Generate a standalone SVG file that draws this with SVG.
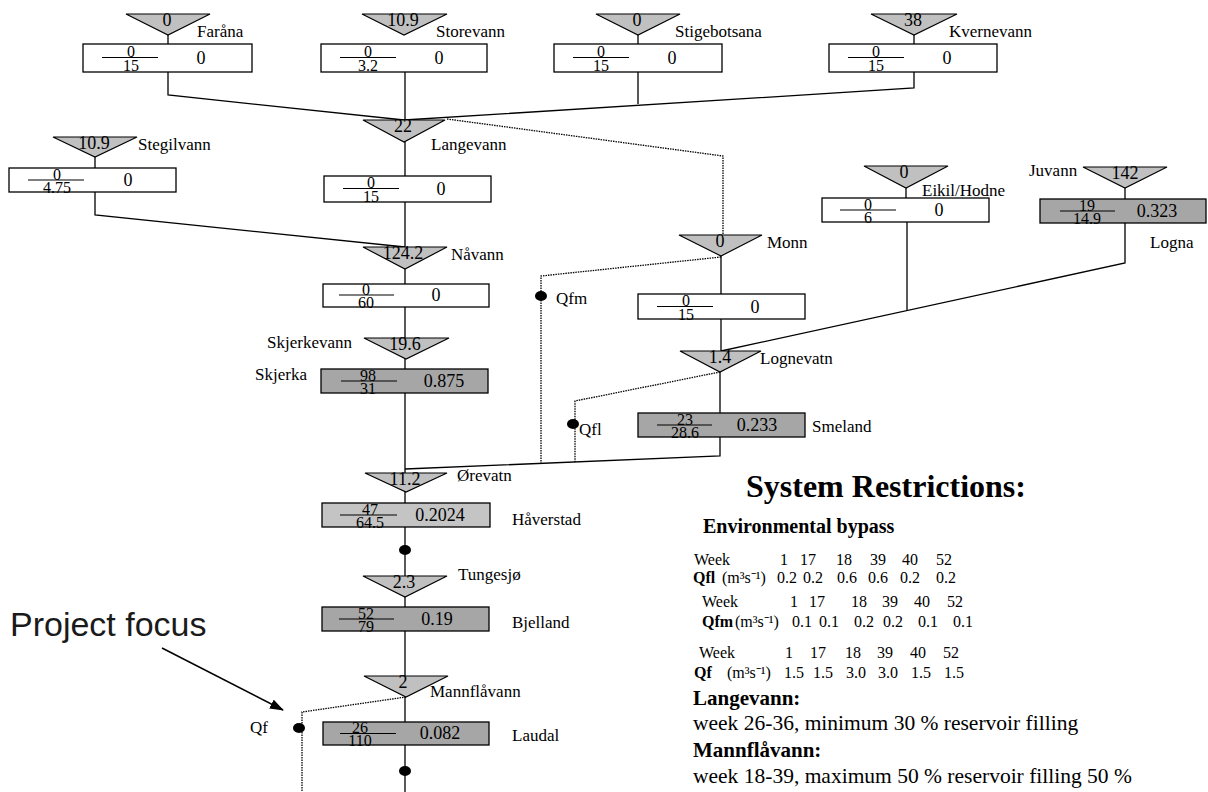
<svg xmlns="http://www.w3.org/2000/svg" width="1208" height="792" viewBox="0 0 1208 792">
<style>
.tri{fill:#c0c0c0;stroke:#000;stroke-width:1.2}
.box{fill:#fff;stroke:#000;stroke-width:1.3}
.dark{fill:#a6a6a6}
.light{fill:#c4c4c4}
.ln{fill:none;stroke:#000;stroke-width:1.3}
.dot{fill:none;stroke:#000;stroke-width:1.3;stroke-dasharray:1.5 1}
.fl{stroke:#000;stroke-width:1.2}
text{font-family:"Liberation Serif","Times New Roman",serif;fill:#000}
.num{font-size:18px;text-anchor:middle}
.fr{font-size:16px;text-anchor:middle}
.lbl{font-size:17px}
.t{font-size:16px}
.tb{font-size:16px;font-weight:bold}
.c{text-anchor:middle}
.h{font-size:21px;font-weight:bold}
.p{font-size:21.5px}
</style>
<defs>
<marker id="ah" markerWidth="14" markerHeight="10" refX="13" refY="5" orient="auto" markerUnits="userSpaceOnUse">
<path d="M0,0 L14,5 L0,10 Z" fill="#000"/>
</marker>
</defs>

<g id="connectors">
<path class="ln" d="M405,72 V792"/>
<path class="ln" d="M168,35 V44 M168,72 V95 L404,120"/>
<path class="ln" d="M638,35 V44 M638,72 V104"/>
<path class="ln" d="M914,35 V44 M914,72 V88 L404,120"/>
<path class="ln" d="M95,157 V168 M95,192 V215 L405,247"/>
<path class="dot" d="M447,119 L723,156 V235"/>
<path class="ln" d="M721,256 V352"/>
<path class="ln" d="M906,188 V198 M907,222 V310"/>
<path class="ln" d="M1125,188 V199 M1125,223 V263 L721,351"/>
<path class="dot" d="M721,257 L541,276 V464"/>
<path class="dot" d="M720,372 L575,401 V462"/>
<path class="ln" d="M720,372 V456 L405,469"/>
<path class="dot" d="M406,697 L302,712 V792"/>
<ellipse cx="541" cy="296" rx="6" ry="5"/>
<ellipse cx="573" cy="424" rx="6" ry="5"/>
<ellipse cx="405" cy="550" rx="6" ry="5"/>
<ellipse cx="299" cy="728" rx="6" ry="5"/>
<ellipse cx="405" cy="771" rx="6" ry="5"/>
<path d="M162,648 L283,710" stroke="#000" stroke-width="1.5" fill="none" marker-end="url(#ah)"/>
</g>

<g id="farana">
<polygon class="tri" points="126,14 210,14 168,35"/>
<text class="num" x="167" y="26">0</text>
<text class="lbl" x="197" y="37">Faråna</text>
<rect class="box" x="83" y="44" width="169" height="28"/>
<line class="fl" x1="102" y1="57.5" x2="158" y2="57.5"/>
<text class="fr" x="131" y="57">0</text>
<text class="fr" x="131" y="70.5">15</text>
<text class="num" x="201" y="64">0</text>
</g>

<g id="storevann">
<polygon class="tri" points="362,14 447,14 404,35"/>
<text class="num" x="403" y="26">10.9</text>
<text class="lbl" x="436" y="37">Storevann</text>
<rect class="box" x="321" y="44" width="166" height="28"/>
<line class="fl" x1="340" y1="57.5" x2="396" y2="57.5"/>
<text class="fr" x="368" y="57">0</text>
<text class="fr" x="368" y="70.5">3.2</text>
<text class="num" x="439" y="64">0</text>
</g>

<g id="stigebotsana">
<polygon class="tri" points="596,14 680,14 638,35"/>
<text class="num" x="637" y="26">0</text>
<text class="lbl" x="675" y="37">Stigebotsana</text>
<rect class="box" x="554" y="44" width="168" height="28"/>
<line class="fl" x1="573" y1="57.5" x2="629" y2="57.5"/>
<text class="fr" x="601" y="57">0</text>
<text class="fr" x="601" y="70.5">15</text>
<text class="num" x="672" y="64">0</text>
</g>

<g id="kvernevann">
<polygon class="tri" points="871,14 957,14 914,35"/>
<text class="num" x="913" y="26">38</text>
<text class="lbl" x="949" y="37">Kvernevann</text>
<rect class="box" x="829" y="44" width="168" height="28"/>
<line class="fl" x1="848" y1="57.5" x2="904" y2="57.5"/>
<text class="fr" x="876" y="57">0</text>
<text class="fr" x="876" y="70.5">15</text>
<text class="num" x="947" y="64">0</text>
</g>

<g id="stegilvann">
<polygon class="tri" points="53,137 137,137 95,157"/>
<text class="num" x="94" y="149">10.9</text>
<text class="lbl" x="138" y="150">Stegilvann</text>
<rect class="box" x="9" y="168" width="167" height="24"/>
<line class="fl" x1="28" y1="180" x2="84" y2="180"/>
<text class="fr" x="57" y="179.5">0</text>
<text class="fr" x="57" y="192.5">4.75</text>
<text class="num" x="128" y="186">0</text>
</g>

<g id="langevann">
<polygon class="tri" points="363,120 445,120 404,142"/>
<text class="num" x="403" y="132">22</text>
<text class="lbl" x="431" y="150">Langevann</text>
<rect class="box" x="324" y="176" width="167" height="26"/>
<line class="fl" x1="343" y1="188.5" x2="399" y2="188.5"/>
<text class="fr" x="371" y="188">0</text>
<text class="fr" x="371" y="201.5">15</text>
<text class="num" x="441" y="195">0</text>
</g>

<g id="navann">
<polygon class="tri" points="363,247 447,247 405,269"/>
<text class="num" x="403" y="259">124.2</text>
<text class="lbl" x="451" y="260">Nåvann</text>
<rect class="box" x="323" y="284" width="166" height="23"/>
<line class="fl" x1="339" y1="295" x2="394" y2="295"/>
<text class="fr" x="366" y="294.5">0</text>
<text class="fr" x="366" y="307.5">60</text>
<text class="num" x="436" y="301">0</text>
</g>

<g id="monn">
<polygon class="tri" points="679,235 762,235 721,256"/>
<text class="num" x="720" y="247">0</text>
<text class="lbl" x="767" y="248">Monn</text>
<rect class="box" x="638" y="294" width="167" height="25"/>
<line class="fl" x1="657" y1="306.5" x2="713" y2="306.5"/>
<text class="fr" x="686" y="306">0</text>
<text class="fr" x="686" y="319.5">15</text>
<text class="num" x="755" y="313">0</text>
</g>

<g id="eikil">
<polygon class="tri" points="864,166 948,166 906,188"/>
<text class="num" x="904" y="178">0</text>
<text class="lbl" x="922" y="196">Eikil/Hodne</text>
<rect class="box" x="822" y="198" width="167" height="24"/>
<line class="fl" x1="840" y1="210" x2="896" y2="210"/>
<text class="fr" x="868" y="209.5">0</text>
<text class="fr" x="868" y="222.5">6</text>
<text class="num" x="939" y="216">0</text>
</g>

<g id="juvann">
<polygon class="tri" points="1083,167 1167,167 1125,188"/>
<text class="num" x="1125" y="179">142</text>
<text class="lbl" x="1029" y="176">Juvann</text>
</g>

<g id="logna">
<rect class="box dark" x="1040" y="199" width="166" height="24"/>
<line class="fl" x1="1060" y1="211" x2="1115" y2="211"/>
<text class="fr" x="1087" y="210.5">19</text>
<text class="fr" x="1087" y="223.5">14.9</text>
<text class="num" x="1157" y="217">0.323</text>
<text class="lbl" x="1150" y="248">Logna</text>
</g>

<g id="skjerkevann">
<polygon class="tri" points="364,338 449,338 406,359"/>
<text class="num" x="405" y="350">19.6</text>
<text class="lbl" x="267" y="348">Skjerkevann</text>
</g>

<g id="skjerka">
<rect class="box dark" x="321" y="369" width="167" height="24"/>
<line class="fl" x1="341" y1="381" x2="397" y2="381"/>
<text class="fr" x="368" y="380.5">98</text>
<text class="fr" x="368" y="393.5">31</text>
<text class="num" x="444" y="387">0.875</text>
<text class="lbl" x="255" y="380">Skjerka</text>
</g>

<g id="lognevatn">
<polygon class="tri" points="680,351 761,351 720,372"/>
<text class="num" x="720" y="363">1.4</text>
<text class="lbl" x="760" y="364">Lognevatn</text>
</g>

<g id="smeland">
<rect class="box dark" x="638" y="413" width="167" height="24"/>
<line class="fl" x1="657" y1="425" x2="712" y2="425"/>
<text class="fr" x="685" y="424.5">23</text>
<text class="fr" x="685" y="437.5">28.6</text>
<text class="num" x="757" y="431">0.233</text>
<text class="lbl" x="812" y="432">Smeland</text>
</g>

<g id="qlabels">
<text class="lbl" x="556" y="304">Qfm</text>
<text class="lbl" x="579" y="435">Qfl</text>
<text class="lbl" x="250" y="733">Qf</text>
</g>

<g id="orevatn">
<polygon class="tri" points="365,473 447,473 406,492"/>
<text class="num" x="405" y="485">11.2</text>
<text class="lbl" x="457" y="481">Ørevatn</text>
</g>

<g id="haverstad">
<rect class="box light" x="322" y="503" width="168" height="24"/>
<line class="fl" x1="340" y1="515" x2="397" y2="515"/>
<text class="fr" x="370" y="514.5">47</text>
<text class="fr" x="370" y="527.5">64.5</text>
<text class="num" x="440" y="521">0.2024</text>
<text class="lbl" x="512" y="525">Håverstad</text>
</g>

<g id="tungesjo">
<polygon class="tri" points="363,576 447,576 405,597"/>
<text class="num" x="404" y="588">2.3</text>
<text class="lbl" x="458" y="580">Tungesjø</text>
</g>

<g id="bjelland">
<rect class="box dark" x="322" y="607" width="167" height="24"/>
<line class="fl" x1="339" y1="619" x2="394" y2="619"/>
<text class="fr" x="366" y="618.5">52</text>
<text class="fr" x="366" y="631.5">79</text>
<text class="num" x="437" y="625">0.19</text>
<text class="lbl" x="512" y="628">Bjelland</text>
</g>

<g id="mannflavann">
<polygon class="tri" points="364,676 448,676 406,697"/>
<text class="num" x="403" y="688">2</text>
<text class="lbl" x="430" y="697">Mannflåvann</text>
</g>

<g id="laudal">
<rect class="box dark" x="323" y="722" width="166" height="23"/>
<line class="fl" x1="340" y1="733.5" x2="396" y2="733.5"/>
<text class="fr" x="360" y="733">26</text>
<text class="fr" x="360" y="746">110</text>
<text class="num" x="440" y="739">0.082</text>
<text class="lbl" x="512" y="741">Laudal</text>
</g>

<g id="project-focus">
<text x="10" y="636" style="font-family:'Liberation Sans',Arial,sans-serif;font-size:34px;fill:#1a1a1a">Project focus</text>
</g>

<g id="restrictions">
<text x="746" y="497" style="font-size:32px;font-weight:bold">System Restrictions:</text>
<text x="703" y="533" style="font-size:20px;font-weight:bold">Environmental bypass</text>
<text class="t" x="694" y="565">Week</text>
<g><text class="t c" x="784" y="565">1</text><text class="t c" x="808" y="565">17</text><text class="t c" x="844" y="565">18</text><text class="t c" x="878" y="565">39</text><text class="t c" x="910" y="565">40</text><text class="t c" x="944" y="565">52</text></g>
<text x="693" y="583"><tspan class="tb">Qfl</tspan><tspan class="t" x="722">(m³s⁻¹)</tspan></text>
<g><text class="t c" x="787" y="583">0.2</text><text class="t c" x="813" y="583">0.2</text><text class="t c" x="847" y="583">0.6</text><text class="t c" x="878" y="583">0.6</text><text class="t c" x="910" y="583">0.2</text><text class="t c" x="946" y="583">0.2</text></g>
<text class="t" x="702" y="607">Week</text>
<g><text class="t c" x="794" y="607">1</text><text class="t c" x="817" y="607">17</text><text class="t c" x="859" y="607">18</text><text class="t c" x="890" y="607">39</text><text class="t c" x="922" y="607">40</text><text class="t c" x="955" y="607">52</text></g>
<text x="702" y="627"><tspan class="tb">Qfm</tspan><tspan class="t" x="735">(m³s⁻¹)</tspan></text>
<g><text class="t c" x="802" y="627">0.1</text><text class="t c" x="829" y="627">0.1</text><text class="t c" x="864" y="627">0.2</text><text class="t c" x="893" y="627">0.2</text><text class="t c" x="928" y="627">0.1</text><text class="t c" x="963" y="627">0.1</text></g>
<text class="t" x="699" y="658">Week</text>
<g><text class="t c" x="789" y="658">1</text><text class="t c" x="818" y="658">17</text><text class="t c" x="853" y="658">18</text><text class="t c" x="885" y="658">39</text><text class="t c" x="918" y="658">40</text><text class="t c" x="951" y="658">52</text></g>
<text x="694" y="678"><tspan class="tb">Qf</tspan><tspan class="t" x="727">(m³s⁻¹)</tspan></text>
<g><text class="t c" x="794" y="678">1.5</text><text class="t c" x="823" y="678">1.5</text><text class="t c" x="856" y="678">3.0</text><text class="t c" x="888" y="678">3.0</text><text class="t c" x="921" y="678">1.5</text><text class="t c" x="954" y="678">1.5</text></g>
<text class="h" x="693" y="705">Langevann:</text>
<text class="p" x="693" y="730">week 26-36, minimum 30 % reservoir filling</text>
<text class="h" x="693" y="757">Mannflåvann:</text>
<text class="p" x="693" y="783">week 18-39, maximum 50 % reservoir filling 50 %</text>
</g>
</svg>
